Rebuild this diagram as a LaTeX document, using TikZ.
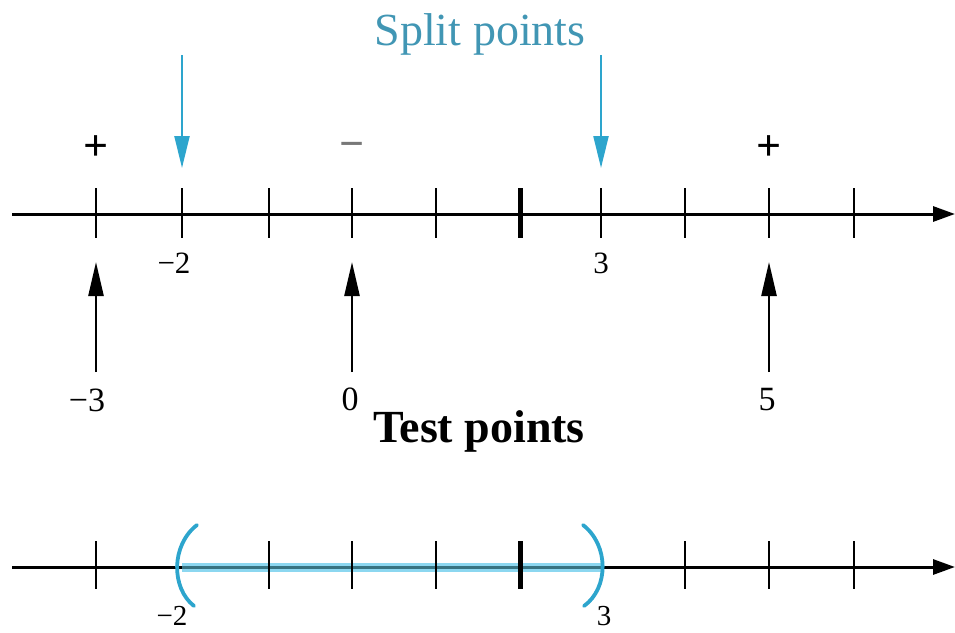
\documentclass[tikz,border=0pt]{standalone}
\usepackage{fontspec}
\setmainfont{Liberation Serif}
\usetikzlibrary{arrows.meta}
\definecolor{splitblue}{RGB}{45,165,205}
\definecolor{splittext}{RGB}{65,150,180}
\definecolor{bandblue}{RGB}{140,215,240}
\definecolor{bandcore}{RGB}{55,115,130}
\definecolor{minusgray}{RGB}{120,120,120}
\begin{document}
\begin{tikzpicture}[x=1pt,y=-1pt,
  axisline/.style={line width=3pt,black,-{Triangle[length=22pt,width=15pt]}},
  tick/.style={line width=2.5pt,black},
  thicktick/.style={line width=5pt,black},
  splitarrow/.style={line width=2.2pt,splitblue,-{Triangle[length=32pt,width=15pt]}},
  testarrow/.style={line width=2.5pt,black,-{Triangle[length=34pt,width=15pt]}},
  numlbl/.style={inner sep=0pt,anchor=base,font=\fontsize{31}{34}\selectfont},
  signlbl/.style={inner sep=0pt,font=\bfseries\fontsize{44}{46}\selectfont},
  paren/.style={line width=3.8pt,splitblue,line cap=round},
  band/.style={line width=9pt,bandblue},
  bandline/.style={line width=3pt,bandcore}
]
\useasboundingbox (0,0) rectangle (955,632);

% ---------- top number line ----------
\coordinate (aL) at (12,214);
\coordinate (aR) at (955,214);
\draw[axisline] (aL) -- (aR);
\foreach \x/\nm in {96/m3,182/m2,269/m1,352/z,436/p1,601/p3,685/p4,769/p5,854/p6}{
  \coordinate (t\nm top) at (\x,188);
  \coordinate (t\nm bot) at (\x,238);
  \draw[tick] (t\nm top) -- (t\nm bot);
}
\coordinate (tp2top) at (520,188);
\coordinate (tp2bot) at (520,238);
\draw[thicktick] (tp2top) -- (tp2bot);

% signs
\node[signlbl] (plusL) at (96,148) {+};
\node[signlbl,minusgray] (minusM) at (352,150) {−};
\node[signlbl] (plusR) at (769,148) {+};

% split points
\node[inner sep=0pt,anchor=base,splittext,font=\fontsize{46}{50}\selectfont] (split) at (480,45) {Split points};
\coordinate (s1) at (182,55);
\coordinate (s1e) at (182,168);
\coordinate (s2) at (601,55);
\coordinate (s2e) at (601,168);
\draw[splitarrow] (s1) -- (s1e);
\draw[splitarrow] (s2) -- (s2e);

\node[numlbl] (lblm2) at (174,273) {−2};
\node[numlbl] (lbl3) at (601,273) {3};

% test points
\coordinate (b1) at (96,372);  \coordinate (b1e) at (96,262);
\coordinate (b2) at (352,372); \coordinate (b2e) at (352,262);
\coordinate (b3) at (769,372); \coordinate (b3e) at (769,262);
\draw[testarrow] (b1) -- (b1e);
\draw[testarrow] (b2) -- (b2e);
\draw[testarrow] (b3) -- (b3e);
\node[numlbl,font=\fontsize{34}{36}\selectfont] (lblm3) at (87,411) {−3};
\node[numlbl,font=\fontsize{34}{36}\selectfont] (lbl0) at (350,410) {0};
\node[numlbl,font=\fontsize{34}{36}\selectfont] (lbl5) at (767,410) {5};
\node[inner sep=0pt,anchor=base,font=\bfseries\fontsize{46}{50}\selectfont] (test) at (479,442) {Test points};

% ---------- bottom number line ----------
\coordinate (cL) at (12,567);
\coordinate (cR) at (955,567);
\coordinate (iL) at (182,567);
\coordinate (iR) at (601,567);
\draw[band] (iL) -- (iR);
\draw[axisline] (cL) -- (cR);
\draw[bandline] (iL) -- (iR);
\foreach \x/\nm in {96/m3,269/m1,352/z,436/p1,685/p4,769/p5,854/p6}{
  \coordinate (u\nm top) at (\x,541);
  \coordinate (u\nm bot) at (\x,589);
  \draw[tick] (u\nm top) -- (u\nm bot);
}
\coordinate (up2top) at (520,541);
\coordinate (up2bot) at (520,589);
\draw[thicktick] (up2top) -- (up2bot);
\coordinate (pl1) at (197,525);
\coordinate (pl2) at (194,606);
\draw[paren] (pl1) .. controls (171,545) and (171,588) .. (pl2);
\coordinate (pr1) at (583,525);
\coordinate (pr2) at (584,606);
\draw[paren] (pr1) .. controls (609,545) and (609,588) .. (pr2);
\node[numlbl,font=\fontsize{29}{32}\selectfont] (blm2) at (172,625) {−2};
\node[numlbl,font=\fontsize{29}{32}\selectfont] (bl3) at (604,625) {3};
\end{tikzpicture}
\end{document}
